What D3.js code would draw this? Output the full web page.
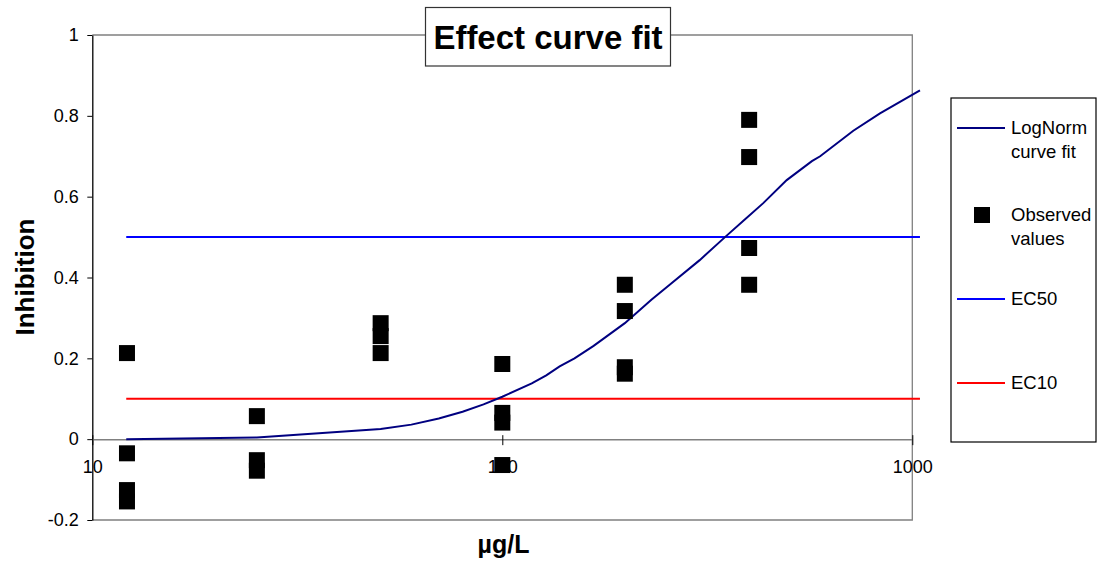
<!DOCTYPE html>
<html>
<head>
<meta charset="utf-8">
<script src="https://cdn.jsdelivr.net/npm/d3@7"></script>
<style>
  body { margin: 0; background: #fff; }
  svg { font-family: "Liberation Sans", Arial, sans-serif; }
</style>
</head>
<body>
<svg></svg>
<script>
var svg_width = 1099;
var svg_height = 565;

// DATA
var obsX = [12.15, 12.15, 12.15, 12.15,
            25.2, 25.2, 25.2,
            50.5, 50.5, 50.5,
            100, 100, 100, 100,
            199, 199, 199, 199,
            400, 400, 400, 400];
var obsY = [0.213, -0.035, -0.126, -0.154,
            0.057, -0.052, -0.078,
            0.287, 0.255, 0.213,
            0.186, 0.065, 0.041, -0.064,
            0.382, 0.317, 0.178, 0.162,
            0.79, 0.698, 0.473, 0.382];

var curveX = [12.1, 25.2, 50.5, 60, 70, 80, 90, 100, 118, 128, 138, 150, 167,
              199, 231, 256, 303, 352, 391, 433, 494, 569, 596, 718, 834, 1044];
var curveY = [0.000, 0.004, 0.025, 0.036, 0.051, 0.068, 0.086, 0.105, 0.138, 0.158, 0.180, 0.200, 0.231,
              0.287, 0.345, 0.382, 0.443, 0.503, 0.544, 0.584, 0.641, 0.688, 0.700, 0.763, 0.806, 0.863];

var ecX = [12.1, 1044];
var ec50 = [0.5, 0.5];
var ec10 = [0.1, 0.1];

var xTicks = [10, 100, 1000];
var yTicks = [-0.2, 0, 0.2, 0.4, 0.6, 0.8, 1];

// SCALES
var xScale = d3.scaleLog()
               .domain([10, 1000])
               .range([92.3, 912.3]);

var yScale = d3.scaleLinear()
               .domain([-0.2, 1])
               .range([520, 35]);

var svg = d3.select("svg")
      .attr("width", svg_width)
      .attr("height", svg_height);

svg.append("rect")
    .attr("width", svg_width)
    .attr("height", svg_height)
    .attr("fill", "#fff");

// PLOT FRAME (top, right, bottom in gray)
svg.append("path")
    .attr("d", "M" + xScale(10) + "," + yScale(1) +
               "H" + xScale(1000) +
               "V" + yScale(-0.2) +
               "H" + xScale(10))
    .attr("fill", "none")
    .attr("stroke", "#808080")
    .attr("stroke-width", 1.3);

// AXES
var yAxis = d3.axisLeft(yScale)
              .tickValues(yTicks)
              .tickSize(5)
              .tickSizeOuter(0)
              .tickPadding(8.5)
              .tickFormat(function(d) { return String(+d.toFixed(1)); });

svg.append("g")
      .attr("transform", "translate(" + xScale(10) + ",0)")
    .call(yAxis)
    .call(function(g) {
      g.select(".domain").attr("stroke", "#000").attr("stroke-width", 1.3);
      g.selectAll("text")
        .attr("font-size", 18)
        .attr("font-family", "Liberation Sans, Arial, sans-serif")
        .attr("fill", "#000");
    });

var xAxis = d3.axisBottom(xScale)
              .tickValues(xTicks)
              .tickSize(6)
              .tickSizeOuter(0)
              .tickFormat(function(d) { return String(d); });

svg.append("g")
      .attr("transform", "translate(0," + yScale(0) + ")")
    .call(xAxis)
    .call(function(g) {
      g.select(".domain").attr("stroke", "#808080").attr("stroke-width", 1.5);
      g.selectAll(".tick line").attr("y1", -4).attr("y2", 6).attr("stroke", "#000");
      g.selectAll("text")
        .attr("y", 34)
        .attr("dy", null)
        .attr("font-size", 18)
        .attr("font-family", "Liberation Sans, Arial, sans-serif")
        .attr("fill", "#000");
    });

// SERIES
var line = d3.line()
             .x(function(d) { return xScale(d[0]); })
             .y(function(d) { return yScale(d[1]); });

svg.append("path")
    .datum(d3.zip(ecX, ec50))
    .attr("d", line)
    .attr("fill", "none")
    .attr("stroke", "#0000ff")
    .attr("stroke-width", 2);

svg.append("path")
    .datum(d3.zip(ecX, ec10))
    .attr("d", line)
    .attr("fill", "none")
    .attr("stroke", "#ff0000")
    .attr("stroke-width", 2);

svg.append("path")
    .datum(d3.zip(curveX, curveY))
    .attr("d", line)
    .attr("fill", "none")
    .attr("stroke", "#000080")
    .attr("stroke-width", 2);

svg.selectAll("rect.obs")
    .data(d3.zip(obsX, obsY))
    .enter()
    .append("rect")
      .attr("class", "obs")
      .attr("x", function(d) { return xScale(d[0]) - 8; })
      .attr("y", function(d) { return yScale(d[1]) - 8; })
      .attr("width", 16)
      .attr("height", 16)
      .attr("fill", "#000");

// TITLE
svg.append("rect")
    .attr("x", 425.5)
    .attr("y", 7.5)
    .attr("width", 245)
    .attr("height", 58.5)
    .attr("fill", "#fff")
    .attr("stroke", "#333")
    .attr("stroke-width", 1.2);

svg.append("text")
    .attr("x", 548)
    .attr("y", 49)
    .attr("font-size", 33)
    .attr("font-weight", "bold")
    .style("text-anchor", "middle")
    .text("Effect curve fit");

// AXES LABELS
svg.append("text")
    .attr("transform", "translate(34,277) rotate(-90)")
    .attr("font-size", 26)
    .attr("font-weight", "bold")
    .style("text-anchor", "middle")
    .text("Inhibition");

svg.append("text")
    .attr("x", 503.5)
    .attr("y", 553)
    .attr("font-size", 25)
    .attr("font-weight", "bold")
    .style("text-anchor", "middle")
    .text("µg/L");

// LEGEND
var legend = svg.append("g");

legend.append("rect")
    .attr("x", 951)
    .attr("y", 98)
    .attr("width", 145)
    .attr("height", 344)
    .attr("fill", "#fff")
    .attr("stroke", "#000")
    .attr("stroke-width", 1.2);

var legendItems = [
  { kind: "line", color: "#000080", y: 128, lines: ["LogNorm", "curve fit"] },
  { kind: "square", color: "#000", y: 215, lines: ["Observed", "values"] },
  { kind: "line", color: "#0000ff", y: 299, lines: ["EC50"] },
  { kind: "line", color: "#ff0000", y: 383, lines: ["EC10"] }
];

legendItems.forEach(function(item) {
  if (item.kind === "line") {
    legend.append("line")
        .attr("x1", 957)
        .attr("x2", 1005)
        .attr("y1", item.y)
        .attr("y2", item.y)
        .attr("stroke", item.color)
        .attr("stroke-width", 2);
  } else {
    legend.append("rect")
        .attr("x", 974)
        .attr("y", item.y - 8)
        .attr("width", 16)
        .attr("height", 16)
        .attr("fill", item.color);
  }
  var t = legend.append("text")
      .attr("x", 1011)
      .attr("y", item.y + 6)
      .attr("font-size", 18.5);
  item.lines.forEach(function(s, i) {
    t.append("tspan")
        .attr("x", 1011)
        .attr("dy", i === 0 ? 0 : 23.5)
        .text(s);
  });
});
</script>
</body>
</html>
